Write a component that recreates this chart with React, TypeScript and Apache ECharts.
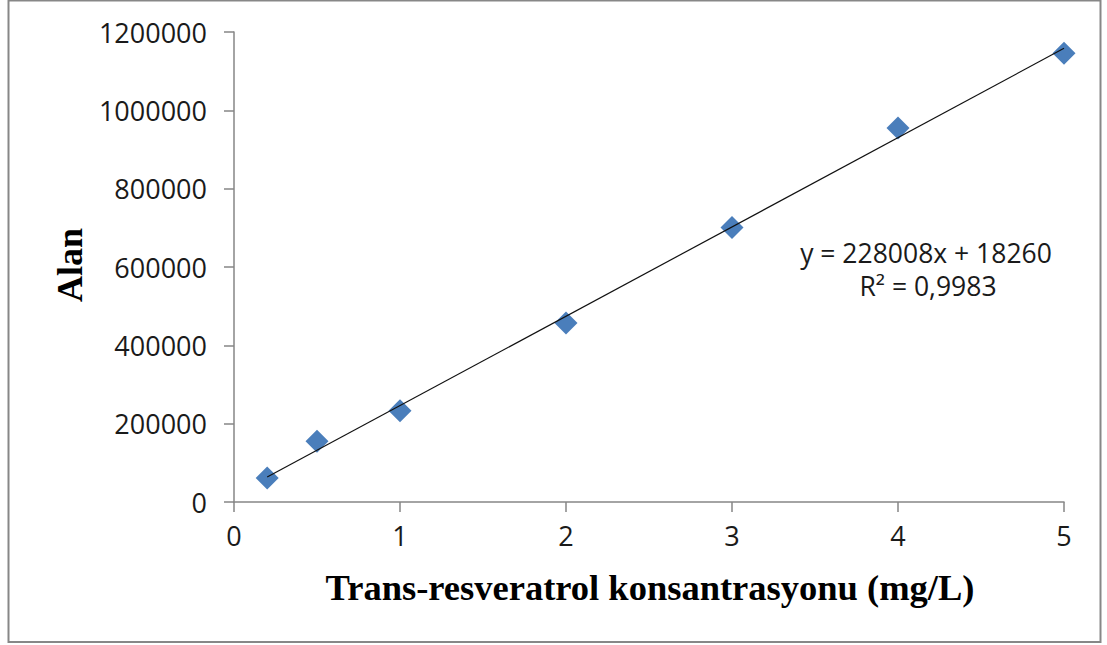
import React, { useEffect, useRef } from "react";
import * as echarts from "echarts";

const concentrations = [0.2, 0.5, 1, 2, 3, 4, 5];
const areas = [61000, 155000, 233000, 457000, 701000, 955000, 1146000];
const trendSlope = 228008;
const trendIntercept = 18260;
const trendRange = [0.2, 5];
const equationText = "y = 228008x + 18260";
const r2Text = "R² = 0,9983";
const xTitle = "Trans-resveratrol konsantrasyonu (mg/L)";
const yTitle = "Alan";

export default function App() {
  const ref = useRef<HTMLDivElement>(null);
  useEffect(() => {
    if (!ref.current) return;
    const chart = echarts.init(ref.current, null, { renderer: "svg" });
    const trendData = trendRange.map((x) => [x, trendSlope * x + trendIntercept]);
    chart.setOption({
      animation: false,
      backgroundColor: "#ffffff",
      grid: { left: 234, right: 43, top: 32, bottom: 143 },
      xAxis: {
        type: "value",
        min: 0,
        max: 5,
        interval: 1,
        splitLine: { show: false },
        axisLine: { lineStyle: { color: "#868686", width: 1.5 } },
        axisTick: { show: true, length: 10, lineStyle: { color: "#868686", width: 1.5 } },
        axisLabel: { margin: 20, fontFamily: "Open Sans", fontSize: 27, color: "#1a1a1a" },
      },
      yAxis: {
        type: "value",
        min: 0,
        max: 1200000,
        interval: 200000,
        splitLine: { show: false },
        axisLine: { show: true, lineStyle: { color: "#868686", width: 1.5 } },
        axisTick: { show: true, length: 10, lineStyle: { color: "#868686", width: 1.5 } },
        axisLabel: {
          margin: 27,
          fontFamily: "Open Sans",
          fontSize: 27,
          color: "#1a1a1a",
          formatter: (v: number) => String(v),
        },
      },
      series: [
        {
          type: "scatter",
          data: concentrations.map((x, i) => [x, areas[i]]),
          symbol: "diamond",
          symbolSize: 23,
          itemStyle: { color: "#4A7EBB", opacity: 1 },
          z: 2,
        },
        {
          type: "line",
          data: trendData,
          symbol: "none",
          lineStyle: { color: "#111111", width: 1.2 },
          z: 3,
        },
      ],
      graphic: [
        {
          type: "rect",
          shape: { x: 8.5, y: 0.5, width: 1092, height: 641.5 },
          style: { fill: "none", stroke: "#878787", lineWidth: 2 },
          silent: true,
        },
        {
          type: "text",
          x: 70,
          y: 265,
          rotation: Math.PI / 2,
          style: {
            text: yTitle,
            font: "bold 36px 'Liberation Serif'",
            fill: "#000",
            align: "center",
            verticalAlign: "middle",
          },
        },
        {
          type: "text",
          x: 650,
          y: 587,
          style: {
            text: xTitle,
            font: "bold 36.5px 'Liberation Serif'",
            fill: "#000",
            align: "center",
            verticalAlign: "middle",
          },
        },
        {
          type: "text",
          x: 926,
          y: 253,
          style: {
            text: equationText,
            font: "26.5px 'Open Sans'",
            fill: "#1a1a1a",
            align: "center",
            verticalAlign: "middle",
          },
        },
        {
          type: "text",
          x: 928,
          y: 286,
          style: {
            text: r2Text,
            font: "26.5px 'Open Sans'",
            fill: "#1a1a1a",
            align: "center",
            verticalAlign: "middle",
          },
        },
      ],
    });
    return () => chart.dispose();
  }, []);
  return (
    <div
      ref={ref}
      style={{ position: "absolute", left: 0, top: 0, width: 1107, height: 645 }}
    />
  );
}
